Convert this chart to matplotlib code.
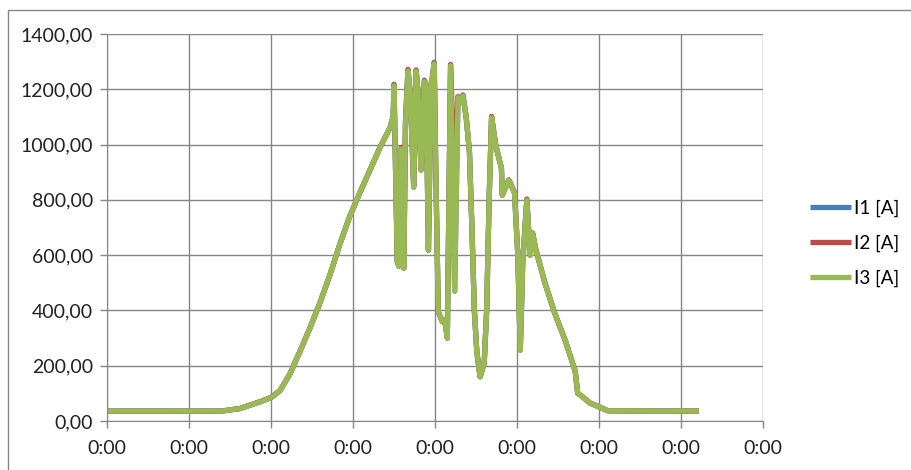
import matplotlib.pyplot as plt
from matplotlib.patches import Rectangle
from matplotlib.ticker import FuncFormatter

# posicion en el eje x (en intervalos de marca) y corrientes medidas
t = [0.00, 1.40, 1.62, 1.87, 2.00, 2.11, 2.23, 2.35, 2.48, 2.60, 2.72, 2.84,
     2.96, 3.09, 3.21, 3.33, 3.45, 3.49, 3.50, 3.54, 3.56, 3.59, 3.62, 3.64,
     3.67, 3.70, 3.74, 3.77, 3.79, 3.83, 3.87, 3.89, 3.92, 3.95, 3.99, 4.01,
     4.04, 4.09, 4.12, 4.15, 4.19, 4.24, 4.28, 4.30, 4.34, 4.38, 4.42, 4.45,
     4.48, 4.51, 4.55, 4.60, 4.63, 4.66, 4.69, 4.74, 4.81, 4.82, 4.90, 4.97,
     5.01, 5.04, 5.07, 5.12, 5.16, 5.19, 5.23, 5.34, 5.46, 5.59, 5.71, 5.74,
     5.79, 5.89, 6.01, 6.11, 7.22]

i1 = [36, 36, 45, 70, 85, 110, 170, 250, 340, 430, 530, 640,
      740, 830, 910, 990, 1060, 1100, 1218, 576, 560, 987, 553, 1078,
      1270, 1180, 847, 1270, 1200, 908, 1233, 1220, 618, 1200, 1298, 900,
      395, 359, 365, 300, 1288, 470, 1173, 1155, 1179, 1100, 974, 700,
      400, 250, 160, 210, 400, 800, 1100, 998, 915, 817, 872, 825,
      600, 257, 576, 800, 600, 680, 620, 500, 390, 290, 180, 100,
      90, 65, 50, 37, 36]

i2 = [36, 36, 45, 70, 85, 110, 170, 250, 340, 430, 530, 640,
      740, 830, 910, 990, 1060, 1100, 1215, 576, 560, 990, 553, 1078,
      1272, 1180, 850, 1268, 1200, 908, 1230, 1220, 618, 1200, 1295, 900,
      395, 359, 365, 300, 1290, 860, 1173, 1155, 1179, 1100, 974, 700,
      400, 250, 160, 210, 400, 800, 1102, 998, 915, 817, 872, 827,
      600, 257, 576, 803, 600, 680, 620, 500, 390, 290, 180, 100,
      90, 65, 50, 37, 36]

i3 = [36, 36, 45, 70, 85, 110, 170, 250, 340, 430, 530, 640,
      740, 830, 910, 990, 1060, 1100, 1212, 576, 560, 984, 553, 1078,
      1266, 1180, 845, 1265, 1200, 908, 1228, 1220, 618, 1200, 1292, 900,
      395, 359, 365, 300, 1285, 470, 1170, 1155, 1176, 1100, 974, 700,
      400, 250, 160, 210, 400, 800, 1097, 998, 915, 817, 872, 823,
      600, 257, 576, 798, 600, 680, 620, 500, 390, 290, 180, 100,
      90, 65, 50, 37, 36]

etiquetas_x = ['0:00'] * 9
series = ['I1 [A]', 'I2 [A]', 'I3 [A]']
colores = ['#4A7EBB', '#BE4B48', '#98B954']

plt.rcParams['font.family'] = ['Lato', 'DejaVu Sans']

fig = plt.figure(figsize=(9.11, 4.70), dpi=100)
ax = fig.add_axes([107 / 911, 1 - 421 / 470, 656 / 911, 387 / 470])

# marco exterior del grafico
fig.patches.append(Rectangle((8 / 911, -0.05), 1.0, 1 - 10 / 470 + 0.05,
                             transform=fig.transFigure, fill=False,
                             edgecolor='#868686', linewidth=1))

for datos, nombre, color in zip([i1, i2, i3], series, colores):
    ax.plot(t, datos, color=color, linewidth=3.8, label=nombre,
            solid_joinstyle='round', solid_capstyle='butt')

ax.set_xlim(0, 8)
ax.set_ylim(0, 1400)
ax.set_xticks(range(9))
ax.set_xticklabels(etiquetas_x)
ax.set_yticks(range(0, 1401, 200))
ax.yaxis.set_major_formatter(FuncFormatter(lambda v, p: f'{v:.2f}'.replace('.', ',')))

ax.grid(True, color='#868686', linewidth=1)
ax.set_axisbelow(True)
for lado in ['top', 'right']:
    ax.spines[lado].set_visible(False)
for lado in ['left', 'bottom']:
    ax.spines[lado].set_color('#868686')
ax.tick_params(axis='both', colors='#868686', length=5, width=1,
               labelsize=14, labelcolor='#222222', pad=5)
ax.tick_params(axis='x', pad=9)

ax.legend(loc='center left', bbox_to_anchor=(810 / 911, 1 - 243 / 470),
          bbox_transform=fig.transFigure, frameon=False, fontsize=13.5,
          handlelength=2.2, handletextpad=0.15, labelspacing=0.95,
          borderpad=0, borderaxespad=0)

fig.savefig('out.png', dpi=100)
